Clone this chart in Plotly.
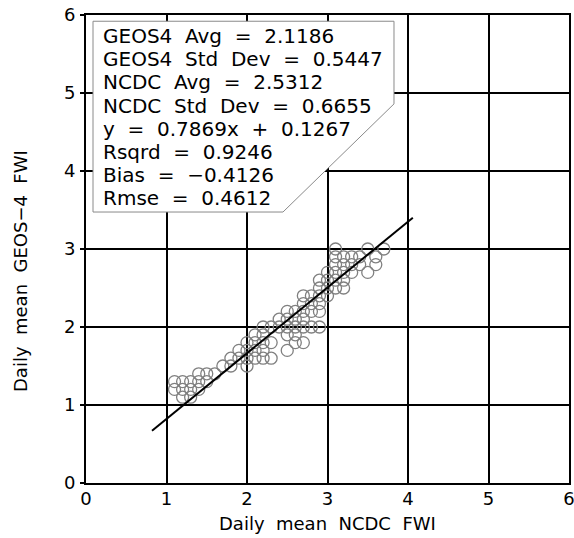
import plotly.graph_objects as go

# ---- data ----
ncdc_fwi = [3.1, 3.5, 3.7,
            3.1, 3.2, 3.3, 3.4, 3.6,
            3.1, 3.2, 3.3, 3.4, 3.6,
            3.0, 3.1, 3.2, 3.3, 3.5,
            2.9, 3.0, 3.1, 3.2,
            2.9, 3.0, 3.1, 3.2,
            2.7, 2.8, 2.9, 3.0,
            2.7, 2.8, 2.9,
            2.5, 2.6, 2.7, 2.8, 2.9,
            2.4, 2.5, 2.6, 2.7,
            2.2, 2.3, 2.4, 2.5, 2.6, 2.7, 2.8, 2.9,
            2.1, 2.2, 2.5, 2.6,
            2.0, 2.1, 2.2, 2.3, 2.6, 2.7,
            1.9, 2.0, 2.1, 2.2, 2.5,
            1.8, 1.9, 2.0, 2.1, 2.2, 2.3,
            1.7, 1.8, 2.0,
            1.4, 1.5, 1.6,
            1.1, 1.2, 1.3, 1.4, 1.5,
            1.1, 1.2, 1.3, 1.4,
            1.2, 1.3]
geos4_fwi = [3.0, 3.0, 3.0,
             2.9, 2.9, 2.9, 2.9, 2.9,
             2.8, 2.8, 2.8, 2.8, 2.8,
             2.7, 2.7, 2.7, 2.7, 2.7,
             2.6, 2.6, 2.6, 2.6,
             2.5, 2.5, 2.5, 2.5,
             2.4, 2.4, 2.4, 2.4,
             2.3, 2.3, 2.3,
             2.2, 2.2, 2.2, 2.2, 2.2,
             2.1, 2.1, 2.1, 2.1,
             2.0, 2.0, 2.0, 2.0, 2.0, 2.0, 2.0, 2.0,
             1.9, 1.9, 1.9, 1.9,
             1.8, 1.8, 1.8, 1.8, 1.8, 1.8,
             1.7, 1.7, 1.7, 1.7, 1.7,
             1.6, 1.6, 1.6, 1.6, 1.6, 1.6,
             1.5, 1.5, 1.5,
             1.4, 1.4, 1.4,
             1.3, 1.3, 1.3, 1.3, 1.3,
             1.2, 1.2, 1.2, 1.2,
             1.1, 1.1]

fit_line_x = [0.82, 4.06]
fit_line_y = [0.67, 3.40]

stats_lines = ["GEOS4 Avg = 2.1186",
               "GEOS4 Std Dev = 0.5447",
               "NCDC Avg = 2.5312",
               "NCDC Std Dev = 0.6655",
               "y = 0.7869x + 0.1267",
               "Rsqrd = 0.9246",
               "Bias = \u22120.4126",
               "Rmse = 0.4612"]

tick_vals = [0, 1, 2, 3, 4, 5, 6]
x_title = "Daily mean NCDC FWI"
y_title = "Daily mean GEOS\u22124 FWI"

# stats box outline (data coordinates)
box_x = [0.087, 3.826, 3.826, 2.447, 0.087]
box_y = [5.92, 5.92, 4.86, 3.474, 3.474]

FONT = "DejaVu Sans"


def wide(s, n=2):
    return s.replace(" ", "\u00a0" * n)


fig = go.Figure()
fig.add_trace(go.Scatter(
    x=ncdc_fwi, y=geos4_fwi, mode="markers",
    marker=dict(symbol="circle-open", size=12, color="#808080",
                line=dict(width=1.3, color="#808080")),
    showlegend=False, hoverinfo="skip"))
fig.add_trace(go.Scatter(
    x=fit_line_x, y=fit_line_y, mode="lines",
    line=dict(color="black", width=2), showlegend=False, hoverinfo="skip"))

path = "M " + " L ".join(f"{a},{b}" for a, b in zip(box_x, box_y)) + " Z"
fig.add_shape(type="path", path=path, xref="x", yref="y",
              fillcolor="white", line=dict(color="#8a8a8a", width=1),
              layer="above")

line_px = [36, 59.2, 82.4, 105.6, 128.8, 152, 175.2, 198.4]
for txt, py in zip(stats_lines, line_px):
    fig.add_annotation(x=0.19, y=(483 - py) / 78.0, xref="x", yref="y",
                       text=wide(txt), showarrow=False, xanchor="left",
                       yanchor="middle",
                       font=dict(family=FONT, size=20, color="black"))

fig.add_annotation(x=0.5, y=0, xref="paper", yref="paper", yshift=-40,
                   text=wide(x_title), showarrow=False, xanchor="center",
                   yanchor="middle", font=dict(family=FONT, size=18, color="black"))
fig.add_annotation(x=0, y=0.5, xref="paper", yref="paper", xshift=-66, yshift=-22,
                   text=wide(y_title), showarrow=False, textangle=-90,
                   xanchor="center", yanchor="middle",
                   font=dict(family=FONT, size=18, color="black"))

axis_common = dict(range=[0, 6], tickvals=tick_vals, ticktext=[str(v) for v in tick_vals],
                   showgrid=True, gridcolor="black", gridwidth=2,
                   showline=True, mirror=True, linecolor="black", linewidth=2,
                   zeroline=False, tickfont=dict(family=FONT, size=18, color="black"),
                   ticklabeloverflow="allow", fixedrange=True)
fig.update_xaxes(**axis_common, ticks="", ticklabelstandoff=-2)
fig.update_yaxes(**axis_common, ticks="outside", ticklen=4, tickwidth=2,
                 tickcolor="black", ticklabelstandoff=1)

fig.update_layout(width=574, height=538,
                  margin=dict(l=86, r=5, t=15, b=55, autoexpand=False),
                  plot_bgcolor="white", paper_bgcolor="white")

fig.write_html("out.html")
